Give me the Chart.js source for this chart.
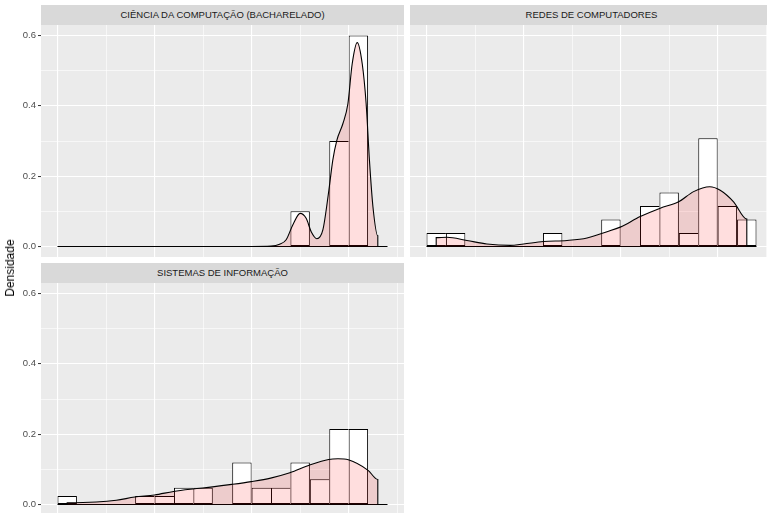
<!DOCTYPE html>
<html>
<head>
<meta charset="utf-8">
<script src="https://cdn.jsdelivr.net/npm/chart.js@4.4.0/dist/chart.umd.min.js"></script>
<style>
  body { margin: 0; background: #fff; font-family: "Liberation Sans", Arial, sans-serif; }
  #fig { position: relative; width: 767px; height: 513px; overflow: hidden; background: #fff; }
  .painel { position: absolute; }
  .faixa { position: absolute; height: 20px; line-height: 20px; background: #d9d9d9; color: #1a1a1a;
           font-size: 9.5px; text-align: center; white-space: nowrap; }
  #tituloY { position: absolute; left: 10px; top: 268px; transform: translate(-50%, -50%) rotate(-90deg);
             font-size: 12px; color: #000; white-space: nowrap; }
</style>
</head>
<body>
<div id="fig">
  <div class="faixa" style="left:41px; top:5px; width:363px;">CIÊNCIA DA COMPUTAÇÃO (BACHARELADO)</div>
  <div class="faixa" style="left:410px; top:5px; width:363px;">REDES DE COMPUTADORES</div>
  <div class="faixa" style="left:41px; top:263px; width:363px;">SISTEMAS DE INFORMAÇÃO</div>
  <canvas id="g1" class="painel" width="404" height="252" style="left:0; top:15px;"></canvas>
  <canvas id="g2" class="painel" width="363" height="252" style="left:410px; top:15px;"></canvas>
  <canvas id="g3" class="painel" width="404" height="252" style="left:0; top:273px;"></canvas>
  <div id="tituloY">Densidade</div>
</div>
<script>
// centros das classes do histograma (largura 1)
const centrosClasse = [0.5, 1.5, 2.5, 3.5, 4.5, 5.5, 6.5, 7.5, 8.5, 9.5, 10.5, 11.5, 12.5, 13.5, 14.5, 15.5, 16.5];

// densidade de cada classe
const histCC = [0, 0, 0, 0, 0, 0, 0, 0, 0, 0, 0, 0, 0.1, 0, 0.3, 0.6, 0];
const histRC = [0.0385, 0.0385, 0, 0, 0, 0, 0.0385, 0, 0, 0.0769, 0, 0.1154, 0.1538, 0.0385, 0.3077, 0.1154, 0.0769];
const histSI = [0.0238, 0, 0, 0, 0.0238, 0.0238, 0.0476, 0.0476, 0, 0.119, 0.0476, 0.0476, 0.119, 0.0714, 0.2143, 0.2143, 0];

// curvas de densidade (kernel)
const densXCC = [0.5, 2, 4, 6, 8, 10, 11, 11.44, 11.78, 12.12, 12.5, 12.81, 13.07, 13.36, 13.67, 13.98, 14.18, 14.39, 14.7, 14.96, 15.18, 15.44, 15.7, 15.9, 16.07, 16.25, 16.5];
const densYCC = [0, 0, 0, 0, 0, 0, 0.001, 0.006, 0.019, 0.061, 0.094, 0.08, 0.042, 0.022, 0.047, 0.16, 0.245, 0.302, 0.349, 0.406, 0.519, 0.58, 0.519, 0.406, 0.245, 0.113, 0.03];

const densXRC = [0.5, 1.05, 2.08, 3.11, 4.31, 5.0, 6.03, 7.24, 8.27, 9.3, 9.98, 11.01, 12.04, 12.99, 13.76, 14.59, 15.13, 15.82, 16.5];
const densYRC = [0.025, 0.026, 0.017, 0.007, 0.003, 0.007, 0.014, 0.017, 0.024, 0.042, 0.055, 0.085, 0.109, 0.127, 0.156, 0.170, 0.160, 0.127, 0.078];

const densXSI = [0.5, 2.0, 3.03, 3.98, 5.0, 5.98, 6.97, 7.99, 8.98, 9.98, 10.98, 11.97, 12.99, 13.97, 14.45, 14.98, 16.0, 16.5];
const densYSI = [0.005, 0.007, 0.012, 0.021, 0.027, 0.037, 0.044, 0.05, 0.057, 0.065, 0.075, 0.09, 0.112, 0.128, 0.13, 0.127, 0.097, 0.071];

// eixos
const quebrasX = [0, 2.5, 5, 7.5, 10, 12.5, 15, 17.5];
const quebrasY = [0, 0.1, 0.2, 0.3, 0.4, 0.5, 0.6];
const rotulosY = ['0.0', '', '0.2', '', '0.4', '', '0.6'];

// fundo cinza do painel (estilo ggplot)
const fundoPainel = {
    id: 'fundoPainel',
    beforeDraw(chart) {
        const { ctx, chartArea: a } = chart;
        ctx.save();
        ctx.fillStyle = '#ebebeb';
        ctx.fillRect(a.left, a.top, a.right - a.left, a.bottom - a.top);
        ctx.restore();
    }
};

function criarPainel(id, hist, densX, densY, comEixoY) {
    const n = densX.length;
    // poligono da densidade fechado nas pontas
    const pontos = [{ x: densX[0], y: 0 }]
        .concat(densX.map((x, i) => ({ x: x, y: densY[i] })))
        .concat([{ x: densX[n - 1], y: 0 }]);

    new Chart(document.getElementById(id), {
        type: 'bar',
        data: {
            datasets: [
                {
                    type: 'line',
                    data: pontos,
                    fill: 'origin',
                    backgroundColor: 'rgba(255, 0, 0, 0.13)',
                    borderColor: '#000',
                    borderWidth: 1.1,
                    pointRadius: 0,
                    cubicInterpolationMode: 'monotone',
                    order: 1
                },
                {
                    type: 'line',
                    data: [{ x: 0, y: 0 }, { x: 17, y: 0 }],
                    borderColor: '#000',
                    borderWidth: 1.1,
                    pointRadius: 0,
                    fill: false,
                    order: 2
                },
                {
                    type: 'bar',
                    data: hist.map((v, i) => ({ x: centrosClasse[i], y: v })),
                    backgroundColor: '#fff',
                    borderColor: '#000',
                    borderWidth: (c) => {
                        const v = hist[c.dataIndex];
                        const prox = c.dataIndex + 1 < hist.length ? hist[c.dataIndex + 1] : 0;
                        return { top: 1, bottom: 1, left: 1, right: prox < v ? 1 : 0 };
                    },
                    borderSkipped: false,
                    inflateAmount: 0,
                    barPercentage: 1,
                    categoryPercentage: 1,
                    order: 3
                }
            ]
        },
        options: {
            responsive: false,
            animation: false,
            layout: { padding: { top: 10, bottom: 10, left: 0, right: 0 } },
            plugins: { legend: { display: false }, tooltip: { enabled: false } },
            scales: {
                x: {
                    type: 'linear',
                    min: -0.85,
                    max: 17.85,
                    offset: false,
                    afterBuildTicks: (s) => { s.ticks = quebrasX.map(v => ({ value: v })); },
                    ticks: { display: false },
                    grid: {
                        offset: false,
                        color: '#fff',
                        lineWidth: (c) => (c.tick && c.tick.value % 5 === 0) ? 1.1 : 0.6,
                        drawTicks: false
                    },
                    border: { display: false },
                    afterFit: (s) => { s.height = 0; }
                },
                y: {
                    type: 'linear',
                    min: -0.03,
                    max: 0.63,
                    afterBuildTicks: (s) => { s.ticks = quebrasY.map(v => ({ value: v })); },
                    ticks: {
                        display: comEixoY,
                        callback: (v, i) => rotulosY[i],
                        color: '#4d4d4d',
                        font: { size: 9.5, family: '"Liberation Sans", Arial, sans-serif' },
                        padding: 2
                    },
                    grid: {
                        color: '#fff',
                        lineWidth: (c) => c.index % 2 === 0 ? 1.1 : 0.6,
                        drawTicks: comEixoY,
                        tickLength: 3,
                        tickWidth: 1,
                        tickColor: (c) => c.index % 2 === 0 ? '#333' : 'rgba(0,0,0,0)'
                    },
                    border: { display: false },
                    afterFit: (s) => { s.width = comEixoY ? 41 : 0; }
                }
            }
        },
        plugins: [fundoPainel]
    });
}

criarPainel('g1', histCC, densXCC, densYCC, true);
criarPainel('g2', histRC, densXRC, densYRC, false);
criarPainel('g3', histSI, densXSI, densYSI, true);
</script>
</body>
</html>
